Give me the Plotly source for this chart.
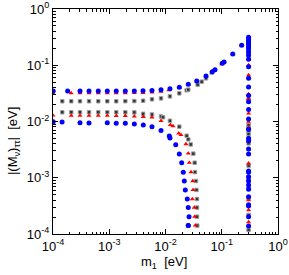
import plotly.graph_objects as go

# ---- data (m1 in eV, |(M_nu)_tautau| in eV) ----
blue_up_m1 = [1.01e-4, 1.82e-4, 3.02e-4, 4.37e-4, 6.38e-4, 9.23e-4, 1.33e-3, 1.93e-3, 2.79e-3, 3.98e-3,
              5.75e-3, 8.32e-3, 0.0120, 0.0176, 0.0254, 0.0359, 0.0525, 0.0679, 0.0759, 0.102, 0.110, 0.157, 0.226]
blue_up_val = [0.0348, 0.0350, 0.0348, 0.0348, 0.0348, 0.0348, 0.0348, 0.0349, 0.0350, 0.0352,
               0.0355, 0.0367, 0.0383, 0.0406, 0.0458, 0.0525, 0.0644, 0.0767, 0.0834, 0.108, 0.114, 0.158, 0.226]
blue_lo_m1 = [1.01e-4, 1.45e-4, 3.02e-4, 4.37e-4, 9.23e-4, 1.33e-3, 1.93e-3, 2.79e-3, 4.03e-3, 5.75e-3,
              8.32e-3, 0.0117, 0.0120, 0.0152, 0.0176, 0.0194, 0.0207, 0.0216, 0.0225, 0.0244, 0.0254, 0.0262, 0.0254, 0.0254]
blue_lo_val = [0.0099, 0.0098, 0.00952, 0.00940, 0.00952, 0.00927, 0.00927, 0.00903, 0.00867, 0.00809,
               0.00692, 0.00552, 0.0051, 0.00387, 0.00264, 0.00185, 0.00125, 0.000875, 0.000607, 0.000419, 0.000295,
               0.000203, 0.000141, 0.000141]
blue_col_val = [0.314, 0.293, 0.270, 0.249, 0.229, 0.211, 0.195, 0.172, 0.152, 0.128, 0.0942, 0.0586, 0.0410,
                0.0290, 0.0225, 0.0163, 0.0111, 0.00727, 0.00502, 0.00456, 0.00325, 0.00264, 0.00132, 0.00125,
                0.00104, 0.000875, 0.000743, 0.000623, 0.000460, 0.000332, 0.000315, 0.000203, 0.000139]

red_up_m1 = [1.0e-4, 2.1e-4, 3.02e-4, 4.37e-4, 6.38e-4, 9.23e-4, 1.33e-3, 1.93e-3, 2.79e-3, 3.98e-3,
             5.75e-3, 8.32e-3, 0.0115, 0.0176, 0.0254, 0.0359, 0.0525, 0.0700, 0.100, 0.157, 0.226]
red_up_val = [0.0316, 0.0320, 0.0321, 0.0321, 0.0321, 0.0321, 0.0321, 0.0321, 0.0322, 0.0324,
              0.0328, 0.0340, 0.0363, 0.0395, 0.0450, 0.0520, 0.0640, 0.0790, 0.105, 0.157, 0.225]
red_lo_m1 = [1.0e-4, 2.11e-4, 3.02e-4, 4.37e-4, 6.38e-4, 9.23e-4, 1.33e-3, 1.93e-3, 2.79e-3, 4.03e-3,
             5.75e-3, 8.32e-3, 0.0122, 0.0136, 0.0172, 0.0189, 0.0231, 0.0254, 0.0265, 0.0284, 0.0305, 0.0308,
             0.0300, 0.0325, 0.0330, 0.0339]
red_lo_val = [0.0128, 0.0127, 0.0127, 0.0127, 0.0127, 0.0127, 0.0126, 0.0126, 0.0123, 0.0121,
              0.0118, 0.0103, 0.00867, 0.0083, 0.00617, 0.00577, 0.00398, 0.00271, 0.00185, 0.00126, 0.000875,
              0.000607, 0.000419, 0.000295, 0.000203, 0.000142]
red_col_val = [0.281, 0.229, 0.179, 0.128, 0.101, 0.0671, 0.0308, 0.0258, 0.0140, 0.00991, 0.00788, 0.00437,
               0.00181, 0.00102, 0.000685, 0.000402, 0.000267, 0.000163]

gray_up_m1 = [1.46e-4, 2.11e-4, 3.02e-4, 4.37e-4, 6.38e-4, 9.23e-4, 1.33e-3, 1.93e-3, 2.79e-3, 4.0e-3,
              5.75e-3, 8.32e-3, 0.0120, 0.0176, 0.0238, 0.0254, 0.0373, 0.0440, 0.0525, 0.0663]
gray_up_val = [0.0229, 0.0229, 0.0229, 0.0229, 0.0229, 0.0229, 0.0229, 0.0230, 0.0231, 0.0234,
               0.0248, 0.0258, 0.0280, 0.0317, 0.0359, 0.0368, 0.0451, 0.0510, 0.0586, 0.0738]
gray_lo_m1 = [1.46e-4, 2.11e-4, 3.02e-4, 4.37e-4, 6.38e-4, 9.23e-4, 1.33e-3, 1.93e-3, 2.79e-3, 4.0e-3,
              5.75e-3, 8.32e-3, 9.04e-3, 0.0120, 0.0176, 0.0238, 0.0254, 0.0281, 0.0312, 0.0330, 0.0335,
              0.0348, 0.0355, 0.0363, 0.0363, 0.0363, 0.0367]
gray_lo_val = [0.0146, 0.0146, 0.0146, 0.0146, 0.0146, 0.0146, 0.0146, 0.0146, 0.0145, 0.0137,
               0.0133, 0.0123, 0.0119, 0.0103, 0.00809, 0.00558, 0.00482, 0.00391, 0.00268, 0.00185, 0.00126,
               0.000875, 0.000607, 0.000419, 0.000295, 0.000203, 0.000141]
gray_col_val = [0.259, 0.203, 0.146, 0.0241, 0.00867, 0.00757, 0.00659, 0.0060, 0.00409, 0.00164, 0.000912,
                0.000431, 0.000218, 0.000118]

col_m1 = 0.30  # quasi-degenerate column

x_ticks = [1e-4, 1e-3, 1e-2, 1e-1, 1]
x_labels = ["10<sup>-4</sup>", "10<sup>-3</sup>", "10<sup>-2</sup>", "10<sup>-1</sup>", "10<sup>0</sup>"]
y_ticks = [1e-4, 1e-3, 1e-2, 1e-1, 1]
y_labels = ["10<sup>-4</sup>", "10<sup>-3</sup>", "10<sup>-2</sup>", "10<sup>-1</sup>", "10<sup>0</sup>"]

minor_vals = [m * 10 ** e for e in range(-4, 0) for m in range(2, 10)]

FONT = "Liberation Sans, Arial, sans-serif"

fig = go.Figure()

def add(xs, ys, marker):
    fig.add_trace(go.Scatter(x=xs, y=ys, mode="markers", marker=marker, showlegend=False, hoverinfo="skip"))

gray_marker = dict(symbol="square", size=3.5, color="#333333", line=dict(color="#a0a0a0", width=1))
red_marker = dict(symbol="triangle-up", size=4.5, color="#ff0000", line=dict(width=0))
blue_marker = dict(symbol="circle", size=5, color="#0000ff", line=dict(width=0))

add(gray_up_m1 + gray_lo_m1 + [col_m1] * len(gray_col_val), gray_up_val + gray_lo_val + gray_col_val, gray_marker)
add(red_up_m1 + red_lo_m1 + [col_m1] * len(red_col_val), red_up_val + red_lo_val + red_col_val, red_marker)
add(blue_up_m1 + blue_lo_m1 + [col_m1] * len(blue_col_val), blue_up_val + blue_lo_val + blue_col_val, blue_marker)

axis_common = dict(
    type="log", range=[-4, 0], showgrid=False, zeroline=False, automargin=False,
    showline=True, linecolor="black", linewidth=1, mirror="allticks",
    ticks="inside", ticklen=5, tickcolor="black", tickwidth=1,
    minor=dict(tickvals=minor_vals, ticks="inside", ticklen=2.5, tickcolor="black", showgrid=False),
    tickfont=dict(family=FONT, size=13, color="black"),
)

fig.update_xaxes(**axis_common, tickvals=x_ticks, ticktext=x_labels)
fig.update_yaxes(**axis_common, tickvals=y_ticks, ticktext=y_labels)

fig.add_annotation(text="m<sub>1</sub>  [eV]", xref="paper", yref="paper", x=0.493, y=-0.128,
                   xanchor="center", yanchor="middle", showarrow=False,
                   font=dict(family=FONT, size=13, color="black"))
fig.add_annotation(text="|(M<sub>ν</sub>)<sub>ττ</sub>|  [eV]", xref="paper", yref="paper", x=-0.178, y=0.413,
                   xanchor="center", yanchor="middle", textangle=-90, showarrow=False,
                   font=dict(family=FONT, size=13, color="black"))

fig.update_layout(
    width=289, height=275,
    margin=dict(l=53, r=11, t=9, b=41),
    paper_bgcolor="white", plot_bgcolor="white",
)

fig.write_html("out.html", config={"displayModeBar": False},
               post_script="document.body.style.margin='0';")
